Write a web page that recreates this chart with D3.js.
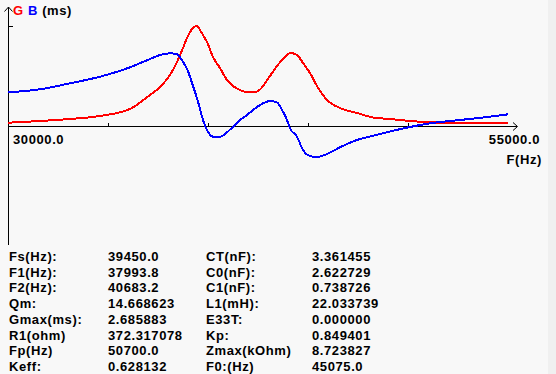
<!DOCTYPE html>
<meta charset="utf-8">
<style>
  body { margin: 0; background: #f0f0f0; }
  svg { display: block; }
  text { font-family: "Liberation Sans", Arial, sans-serif; font-weight: bold; font-size: 13px; letter-spacing: 0.6px; fill: #000; }
  .curve { fill: none; stroke-width: 2px; shape-rendering: crispEdges; }
</style>
<svg width="556" height="374"></svg>
<script src="https://d3js.org/d3.v7.min.js"></script>
<script>
  // frequency grid (Hz) and measured admittance parts (ms)
  var freq = [30000, 31600, 33100, 34600, 36100, 37100, 37600, 38100, 38450, 38750, 38950, 39100, 39250, 39450, 39600,
    39750, 39950, 40250, 40600, 40950, 41250, 41600, 41950, 42250, 42600, 43100, 43450, 43750, 43950, 44100,
    44450, 44750, 45100, 45450, 45950, 46600, 47450, 48250, 49100, 50100, 51100, 52600, 54100, 55000];
  var G = [0.089, 0.134, 0.188, 0.269, 0.457, 0.833, 1.047, 1.370, 1.719, 2.095, 2.364, 2.525, 2.632, 2.686, 2.578,
    2.444, 2.256, 1.853, 1.558, 1.236, 1.074, 0.967, 0.905, 0.900, 0.980, 1.343, 1.612, 1.800, 1.907, 1.961,
    1.907, 1.692, 1.424, 1.074, 0.698, 0.483, 0.349, 0.228, 0.188, 0.134, 0.099, 0.081, 0.081, 0.081];
  var B = [0.905, 0.986, 1.147, 1.324, 1.577, 1.800, 1.907, 1.953, 1.926, 1.727, 1.531, 1.324, 1.074, 0.744, 0.457,
    0.161, -0.107, -0.287, -0.287, -0.169, -0.019, 0.161, 0.295, 0.430, 0.564, 0.671, 0.631, 0.384, 0.161, -0.062,
    -0.287, -0.645, -0.806, -0.833, -0.752, -0.572, -0.376, -0.261, -0.148, -0.027, 0.073, 0.161, 0.250, 0.314];

  var xTicks = [35000, 40000, 45000, 50000];
  var xLabels = ["30000.0", "55000.0"];
  var gmax = 2.685883;

  var colLabels1 = ["Fs(Hz):", "F1(Hz):", "F2(Hz):", "Qm:", "Gmax(ms):", "R1(ohm)", "Fp(Hz)", "Keff:"];
  var colValues1 = ["39450.0", "37993.8", "40683.2", "14.668623", "2.685883", "372.317078", "50700.0", "0.628132"];
  var colLabels2 = ["CT(nF):", "C0(nF):", "C1(nF):", "L1(mH):", "E33T:", "Kp:", "Zmax(kOhm)", "F0:(Hz)"];
  var colValues2 = ["3.361455", "2.622729", "0.738726", "22.033739", "0.000000", "0.849401", "8.723827", "45075.0"];

  var svg = d3.select("svg");

  svg.append("rect").attr("width", 548).attr("height", 374).attr("fill", "#f8f8f8");

  var x = d3.scaleLinear().domain([30000, 55000]).range([8, 508]);
  var y = d3.scaleLinear().domain([0, gmax]).range([126, 26]);

  var axes = svg.append("g").attr("stroke", "#000").attr("stroke-width", 1).attr("fill", "none")
    .attr("shape-rendering", "crispEdges");
  // vertical axis with arrow
  axes.append("line").attr("x1", 8.5).attr("x2", 8.5).attr("y1", 7).attr("y2", 245);
  axes.append("path").attr("d", "M4.5,11.5L8.5,7L12.5,11.5").attr("shape-rendering", "auto");
  axes.append("line").attr("x1", 8).attr("x2", 13).attr("y1", y(gmax) + 0.5).attr("y2", y(gmax) + 0.5);
  // horizontal axis with arrow
  axes.append("line").attr("x1", 8).attr("x2", 517).attr("y1", 126.5).attr("y2", 126.5);
  axes.append("path").attr("d", "M513,122.5L517.5,126.5L513,130.5").attr("shape-rendering", "auto");

  var xAxis = d3.axisTop(x).tickValues(xTicks).tickSize(4).tickSizeOuter(0).tickFormat("");
  svg.append("g").attr("transform", "translate(0,127)").call(xAxis)
    .call(function(g) { g.select(".domain").remove(); })
    .selectAll("line").attr("stroke", "#000").attr("shape-rendering", "crispEdges");

  var line = function(vals) {
    return d3.line()
      .x(function(d, i) { return x(freq[i]); })
      .y(function(d) { return y(d); })
      .curve(d3.curveMonotoneX)(vals);
  };
  svg.append("path").attr("class", "curve").attr("stroke", "#f00").attr("d", line(G));
  svg.append("path").attr("class", "curve").attr("stroke", "#00f").attr("d", line(B));

  // axis labels
  var t = svg.append("text").attr("x", 13).attr("y", 15);
  t.append("tspan").attr("fill", "#f00").style("fill", "#f00").text("G");
  t.append("tspan").style("fill", "#00f").text(" B");
  t.append("tspan").text(" (ms)");

  svg.append("text").attr("x", 13).attr("y", 144).text(xLabels[0]);
  svg.append("text").attr("x", 540).attr("y", 144).attr("text-anchor", "end").text(xLabels[1]);
  svg.append("text").attr("x", 542).attr("y", 164).attr("text-anchor", "end").text("F(Hz)");

  // parameter table
  var cols = [[9, colLabels1], [108, colValues1], [206, colLabels2], [312, colValues2]];
  cols.forEach(function(c) {
    svg.append("g").selectAll("text").data(c[1]).enter().append("text")
      .attr("x", c[0])
      .attr("y", function(d, i) { return 261 + i * 15.7; })
      .text(function(d) { return d; });
  });
</script>
